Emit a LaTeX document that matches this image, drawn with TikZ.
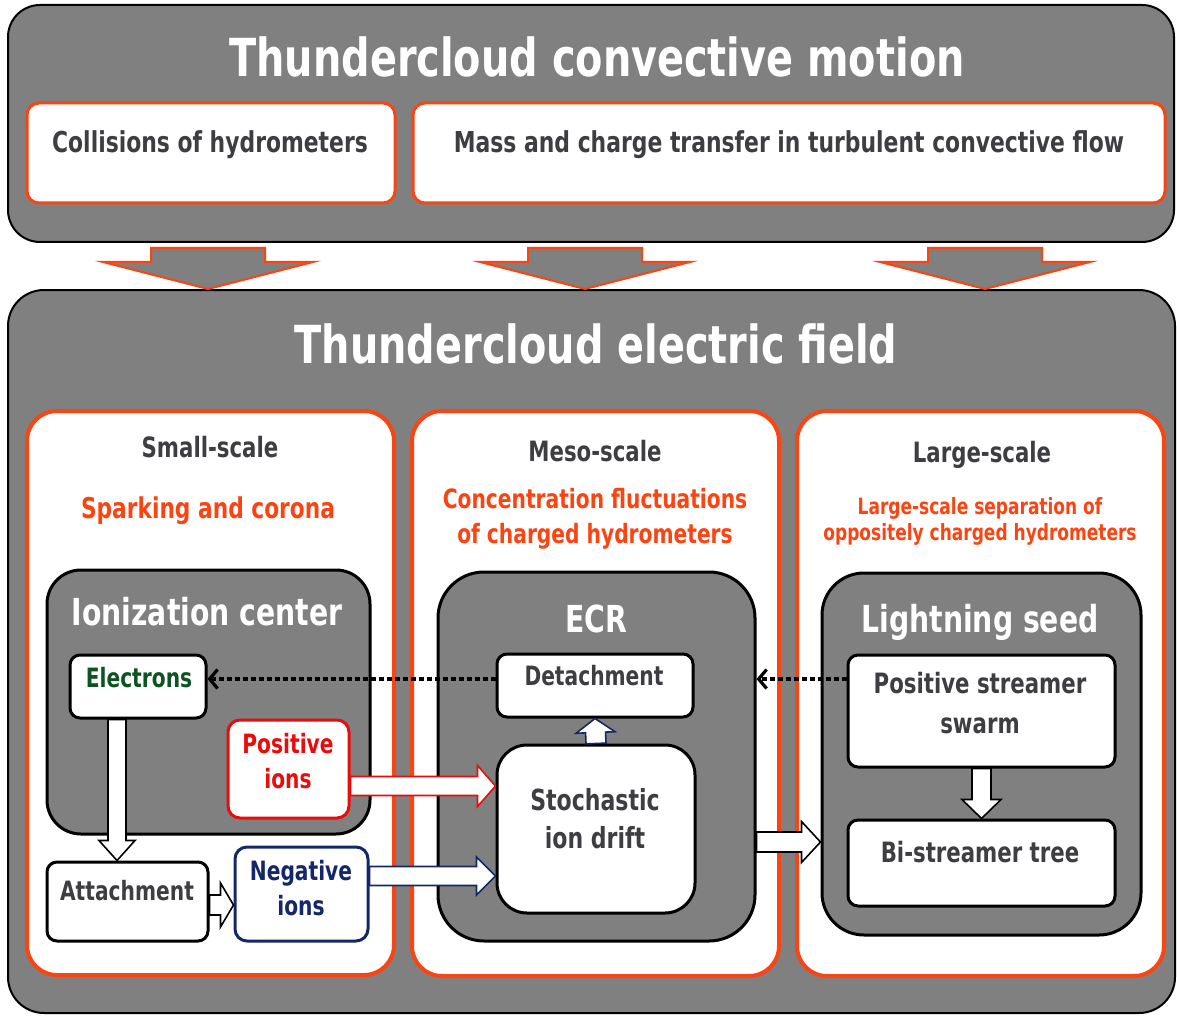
\documentclass[tikz,border=0pt]{standalone}
\usepackage{fontspec}
\setmainfont{DejaVu Sans}[FakeStretch=0.76]
\usetikzlibrary{calc,fit,arrows.meta}

\definecolor{cloudgray}{RGB}{128,128,128}
\definecolor{flame}{RGB}{250,68,18}
\definecolor{ink}{RGB}{62,62,66}
\definecolor{posred}{RGB}{232,12,12}
\definecolor{negblue}{RGB}{20,40,105}
\definecolor{elgreen}{RGB}{12,84,34}

% hollow block arrow: [style]{from}{to}{shaft half width}{head half width}{head length}
\newcommand\blockarrow[6][]{%
  \draw[#1] ($#2!#4!90:#3$) -- ($#3!#6!#2!#4!-90:#2$) -- ($#3!#6!#2!#5!-90:#2$)
    -- #3 -- ($#3!#6!#2!#5!90:#2$) -- ($#3!#6!#2!#4!90:#2$) -- ($#2!#4!-90:#3$) -- cycle;}

\begin{document}
\begin{tikzpicture}[x=0.5pt, y=-0.5pt,
  every node/.style={inner sep=0pt},
  cloud/.style={draw=black, line width=1pt, fill=cloudgray, rounded corners=16pt},
  causebox/.style={draw=flame, line width=1.5pt, fill=white, rounded corners=6pt},
  scalebox/.style={draw=flame, line width=2pt, fill=white, rounded corners=15pt},
  core/.style={draw=black, line width=1.5pt, fill=cloudgray},
  proc/.style={draw=black, line width=1.5pt, fill=white, rounded corners=5pt},
  hd/.style={text=white, anchor=base, font=\bfseries\fontsize{26.2}{30}\selectfont},
  cause/.style={text=ink, anchor=base, font=\bfseries\fontsize{14.4}{18}\selectfont},
  scalelbl/.style={text=ink, anchor=base, font=\bfseries\fontsize{14}{18}\selectfont},
  sub/.style={text=flame, align=center, anchor=base, font=\bfseries\fontsize{13.3}{17.5}\selectfont},
  corehd/.style={text=white, anchor=base, font=\bfseries\fontsize{18.6}{22}\selectfont},
  proctxt/.style={text=ink, align=center, anchor=base, font=\bfseries\fontsize{13.3}{17.5}\selectfont},
  hollow/.style={draw=black, line width=0.8pt, fill=white},
  bigblock/.style={draw=flame, line width=1pt, fill=cloudgray},
  dots/.style={line width=2pt, dash pattern=on 2.5pt off 1.5pt,
    -{Straight Barb[length=4pt, width=9.5pt, line width=1.6pt]}}
]
\fill[white] (0,0) rectangle (1177,1016);
\useasboundingbox (0,0) rectangle (1177,1016);

\node[cloud, fit={(8,5) (1174,242)}] (convect) {};
\node[causebox, fit={(27,103) (395,203)}] (collide) {};
\node[causebox, fit={(413,103) (1165,203)}] (transfer) {};

\node[cloud, rounded corners=18pt, fit={(8,290) (1175,1013)}] (field) {};
\node[scalebox, fit={(27,411) (394,975)}] (small) {};
\node[scalebox, fit={(412,411) (779,976)}] (meso) {};
\node[scalebox, fit={(797,411) (1164,976)}] (large) {};

\node[core, rounded corners=17pt, fit={(47,570) (370,834)}] (ioncen) {};
\node[core, rounded corners=23pt, fit={(438,572) (755,941)}] (ecr) {};
\node[core, rounded corners=21pt, fit={(822,573) (1141,935)}] (seed) {};

\node[proc, fit={(70,655) (206,718)}] (elec) {};
\node[proc, draw=posred, rounded corners=6pt, fit={(228,720) (349,818)}] (posion) {};
\node[proc, fit={(47,862) (208,941)}] (attach) {};
\node[proc, draw=negblue, rounded corners=6pt, fit={(235,847) (368,941)}] (negion) {};
\node[proc, fit={(497,654) (693,717)}] (detach) {};
\node[proc, rounded corners=15pt, fit={(497,745) (695,913)}] (stoch) {};
\node[proc, fit={(848,655) (1115,767)}] (swarm) {};
\node[proc, fit={(848,820) (1115,906)}] (bitree) {};

\foreach \xa in {208,585,985} {
  \coordinate (from) at ($(\xa,0 |- convect.south)+(0,5)$);
  \coordinate (to) at (\xa,0 |- field.north);
  \blockarrow[bigblock]{(from)}{(to)}{28.5pt}{52.5pt}{13.5pt}
}

\coordinate (drop) at (117,0);
\coordinate (lev) at (0,679);
\blockarrow[hollow]{(elec.south -| drop)}{(attach.north -| drop)}{4.5pt}{9pt}{10pt}
\blockarrow[hollow]{(attach.east |- 0,905)}{(negion.west |- 0,905)}{5pt}{11pt}{6.5pt}
\blockarrow[hollow, draw=posred]{(posion.east |- 0,786)}{(stoch.west |- 0,786)}{4.75pt}{10.25pt}{9pt}
\blockarrow[hollow, draw=negblue]{(negion.east |- 0,876)}{(stoch.west |- 0,876)}{4.75pt}{9.5pt}{9.5pt}
\blockarrow[hollow, draw=negblue]{(stoch.north)}{(detach.south)}{5pt}{9.75pt}{7pt}
\blockarrow[hollow]{(ecr.east |- 0,842)}{(seed.west |- 0,842)}{5pt}{10.25pt}{9.5pt}
\blockarrow[hollow]{(swarm.south)}{(bitree.north)}{4.75pt}{9.75pt}{9.5pt}

\draw[dots] (detach.west |- lev) -- (elec.east |- lev);
\draw[dots] (swarm.west |- lev) -- (ecr.east |- lev);

\node[hd] (convecttxt) at (597,77) {Thundercloud convective motion};
\node[cause] (collidetxt) at (210,153) {Collisions of hydrometers};
\node[cause] (transfertxt) at (789,153) {Mass and charge transfer in turbulent convective flow};
\node[hd] (fieldtxt) at (596,363) {Thundercloud electric field};

\node[scalelbl] (smalltxt) at (210,457) {Small-scale};
\node[scalelbl] (mesotxt) at (595,461) {Meso-scale};
\node[scalelbl] (largetxt) at (982,462) {Large-scale};
\node[sub, font=\bfseries\fontsize{14.3}{18}\selectfont] (sparktxt) at (208,518) {Sparking and corona};
\node[sub] (fluctxt) at (595,543) {Concentration fluctuations\\of charged hydrometers};
\node[sub, font=\bfseries\fontsize{11.2}{13}\selectfont] (septxt) at (980,540) {Large-scale separation of\\oppositely charged hydrometers};

\node[corehd] (ioncentxt) at (207,625) {Ionization center};
\node[corehd] (ecrtxt) at (596,632) {ECR};
\node[corehd] (seedtxt) at (980,632) {Lightning seed};

\node[proctxt, text=elgreen] (electxt) at (139,687) {Electrons};
\node[proctxt, text=posred] (positxt) at (288,788) {Positive\\ions};
\node[proctxt] (attachtxt) at (127,900) {Attachment};
\node[proctxt, text=negblue] (negitxt) at (301,915) {Negative\\ions};
\node[proctxt] (detachtxt) at (594,685) {Detachment};
\node[proctxt, font=\bfseries\fontsize{14.5}{19}\selectfont] (stochtxt) at (595,848) {Stochastic\\ion drift};
\node[proctxt, font=\bfseries\fontsize{14}{20}\selectfont] (swarmtxt) at (980,733) {Positive streamer\\swarm};
\node[proctxt, font=\bfseries\fontsize{14}{20}\selectfont] (bitreetxt) at (980,862) {Bi-streamer tree};
\end{tikzpicture}
\end{document}
